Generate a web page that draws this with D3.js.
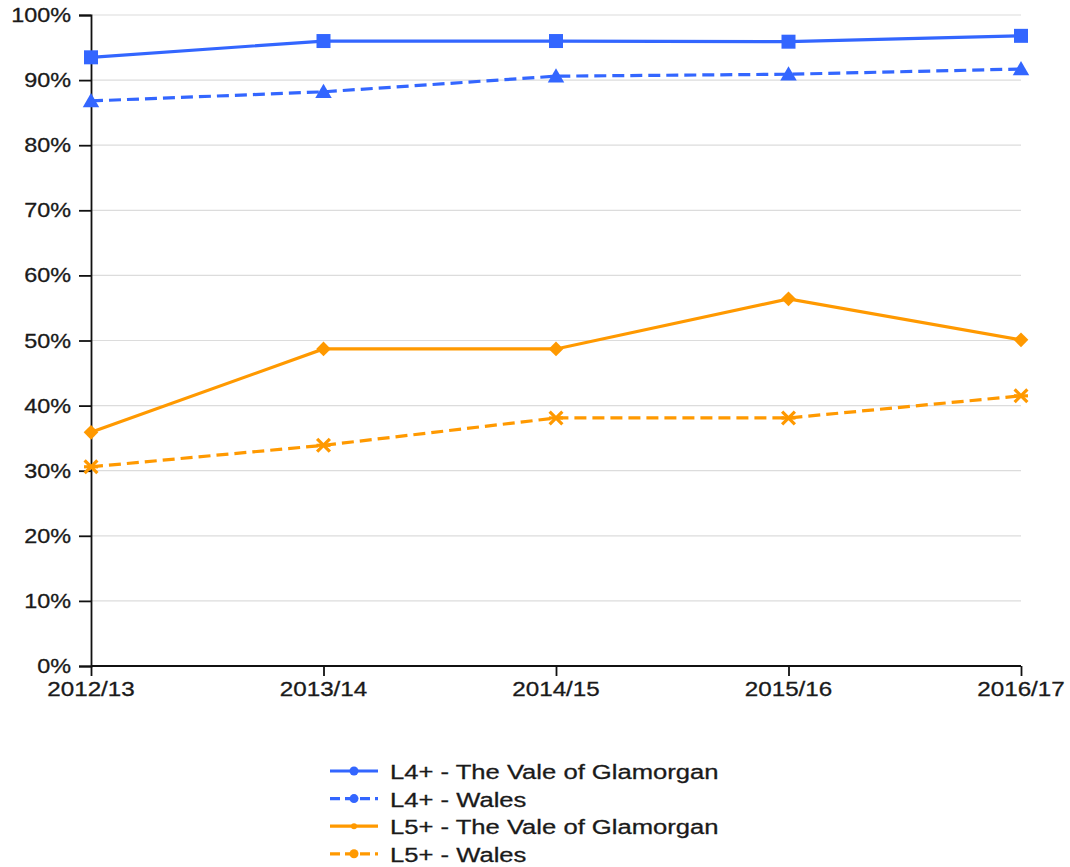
<!DOCTYPE html>
<html>
<head>
<meta charset="utf-8">
<script src="https://cdn.jsdelivr.net/npm/d3@7"></script>
<style>
  body { margin: 0; background: #fff; }
  svg { display: block; font-family: "Liberation Sans", Arial, sans-serif; }
</style>
</head>
<body>
<svg id="chart"></svg>
<script>
const years = ['2012/13', '2013/14', '2014/15', '2015/16', '2016/17'];
const l4Vale = [93.5, 96.0, 96.0, 95.9, 96.8];
const l4Wales = [86.8, 88.2, 90.6, 90.9, 91.7];
const l5Vale = [35.9, 48.7, 48.7, 56.4, 50.1];
const l5Wales = [30.6, 33.9, 38.1, 38.1, 41.5];
const yTicks = [0, 10, 20, 30, 40, 50, 60, 70, 80, 90, 100];

const blue = '#3366ff';
const orange = '#ff9900';

const series = [
    { name: 'L4+ - The Vale of Glamorgan', values: l4Vale, color: blue, dash: null, marker: 'square' },
    { name: 'L4+ - Wales', values: l4Wales, color: blue, dash: '12,6', marker: 'triangle' },
    { name: 'L5+ - The Vale of Glamorgan', values: l5Vale, color: orange, dash: null, marker: 'diamond' },
    { name: 'L5+ - Wales', values: l5Wales, color: orange, dash: '12,6', marker: 'star' }
];

const config = { width: 1070, height: 867, left: 91, right: 1021, top: 15, bottom: 666 };

let svg = d3.select('#chart')
    .attr('width', config.width)
    .attr('height', config.height);

let xScale = d3.scalePoint().domain(years).range([config.left, config.right]);
let yScale = d3.scaleLinear().domain([0, 100]).range([config.bottom, config.top]);

// text helper, the source text is stretched sideways
const addText = (g, x, y, str, anchor, size, sx) => {
    g.append('text')
        .attr('transform', `translate(${x},${y}) scale(${sx},1)`)
        .attr('text-anchor', anchor)
        .style('font-size', size + 'px')
        .style('fill', '#1a1a1a')
        .style('stroke', '#1a1a1a')
        .style('stroke-width', 0.3)
        .text(str);
};

// grid
svg.append('g')
    .selectAll('line')
    .data(yTicks.filter(d => d > 0))
    .enter()
    .append('line')
    .attr('x1', config.left)
    .attr('x2', config.right)
    .attr('y1', d => yScale(d))
    .attr('y2', d => yScale(d))
    .style('stroke', '#dcdcdc')
    .style('stroke-width', 1.2);

// axes
let yAxis = svg.append('g')
    .attr('transform', `translate(${config.left},0)`)
    .call(d3.axisLeft(yScale).tickValues(yTicks).tickSize(12).tickFormat(''));
let xAxis = svg.append('g')
    .attr('transform', `translate(0,${config.bottom})`)
    .call(d3.axisBottom(xScale).tickSize(10).tickSizeOuter(0).tickFormat(''));
[yAxis, xAxis].forEach(a => {
    a.select('.domain').style('stroke', '#111').style('stroke-width', 1.8);
    a.selectAll('.tick line').style('stroke', '#111').style('stroke-width', 1.8);
});
xAxis.select('.domain').attr('d', `M${config.left},0H${config.right}`);

let labels = svg.append('g');
yTicks.forEach(t => addText(labels, 71, yScale(t) + 7, t + '%', 'end', 20, 1.17));
years.forEach(y => addText(labels, xScale(y), 696, y, 'middle', 20, 1.21));

// markers
const drawMarker = (g, type, color, x, y, s) => {
    if (type === 'star') {
        g.append('path')
            .attr('d', d3.symbol(d3.symbolTimes, s * s * 0.55)())
            .attr('transform', `translate(${x},${y})`)
            .style('fill', 'none')
            .style('stroke', color)
            .style('stroke-width', 3.2);
        g.append('line')
            .attr('x1', x - s / 2).attr('x2', x + s / 2)
            .attr('y1', y).attr('y2', y)
            .style('stroke', color)
            .style('stroke-width', 3.2);
    } else if (type === 'diamond') {
        g.append('path')
            .attr('d', d3.symbol(d3.symbolSquare, s * s * 0.55)())
            .attr('transform', `translate(${x},${y}) rotate(45)`)
            .style('fill', color);
    } else if (type === 'triangle') {
        g.append('path')
            .attr('d', d3.symbol(d3.symbolTriangle, s * s * 0.6)())
            .attr('transform', `translate(${x},${y + 1.5})`)
            .style('fill', color);
    } else {
        g.append('path')
            .attr('d', d3.symbol(d3.symbolSquare, s * s)())
            .attr('transform', `translate(${x},${y})`)
            .style('fill', color);
    }
};

let line = d3.line()
    .x((d, i) => xScale(years[i]))
    .y(d => yScale(d));

let plot = svg.append('g');
series.forEach(s => {
    plot.append('path')
        .datum(s.values)
        .attr('d', line)
        .style('fill', 'none')
        .style('stroke', s.color)
        .style('stroke-width', 3.2)
        .style('stroke-dasharray', s.dash);
    s.values.forEach((v, i) => drawMarker(plot, s.marker, s.color, xScale(years[i]), yScale(v), 14));
});

// legend
let legend = svg.append('g');
series.forEach((s, i) => {
    let y = 771 + i * 27.6;
    legend.append('line')
        .attr('x1', 330).attr('x2', 378)
        .attr('y1', y).attr('y2', y)
        .style('stroke', s.color)
        .style('stroke-width', 3.2)
        .style('stroke-dasharray', s.dash ? '10,5' : null);
    legend.append('circle')
        .attr('cx', 354).attr('cy', y)
        .attr('r', i === 2 ? 3 : 4.5)
        .style('fill', s.color);
    addText(legend, 390, y + 8, s.name, 'start', 21, 1.22);
});
</script>
</body>
</html>
